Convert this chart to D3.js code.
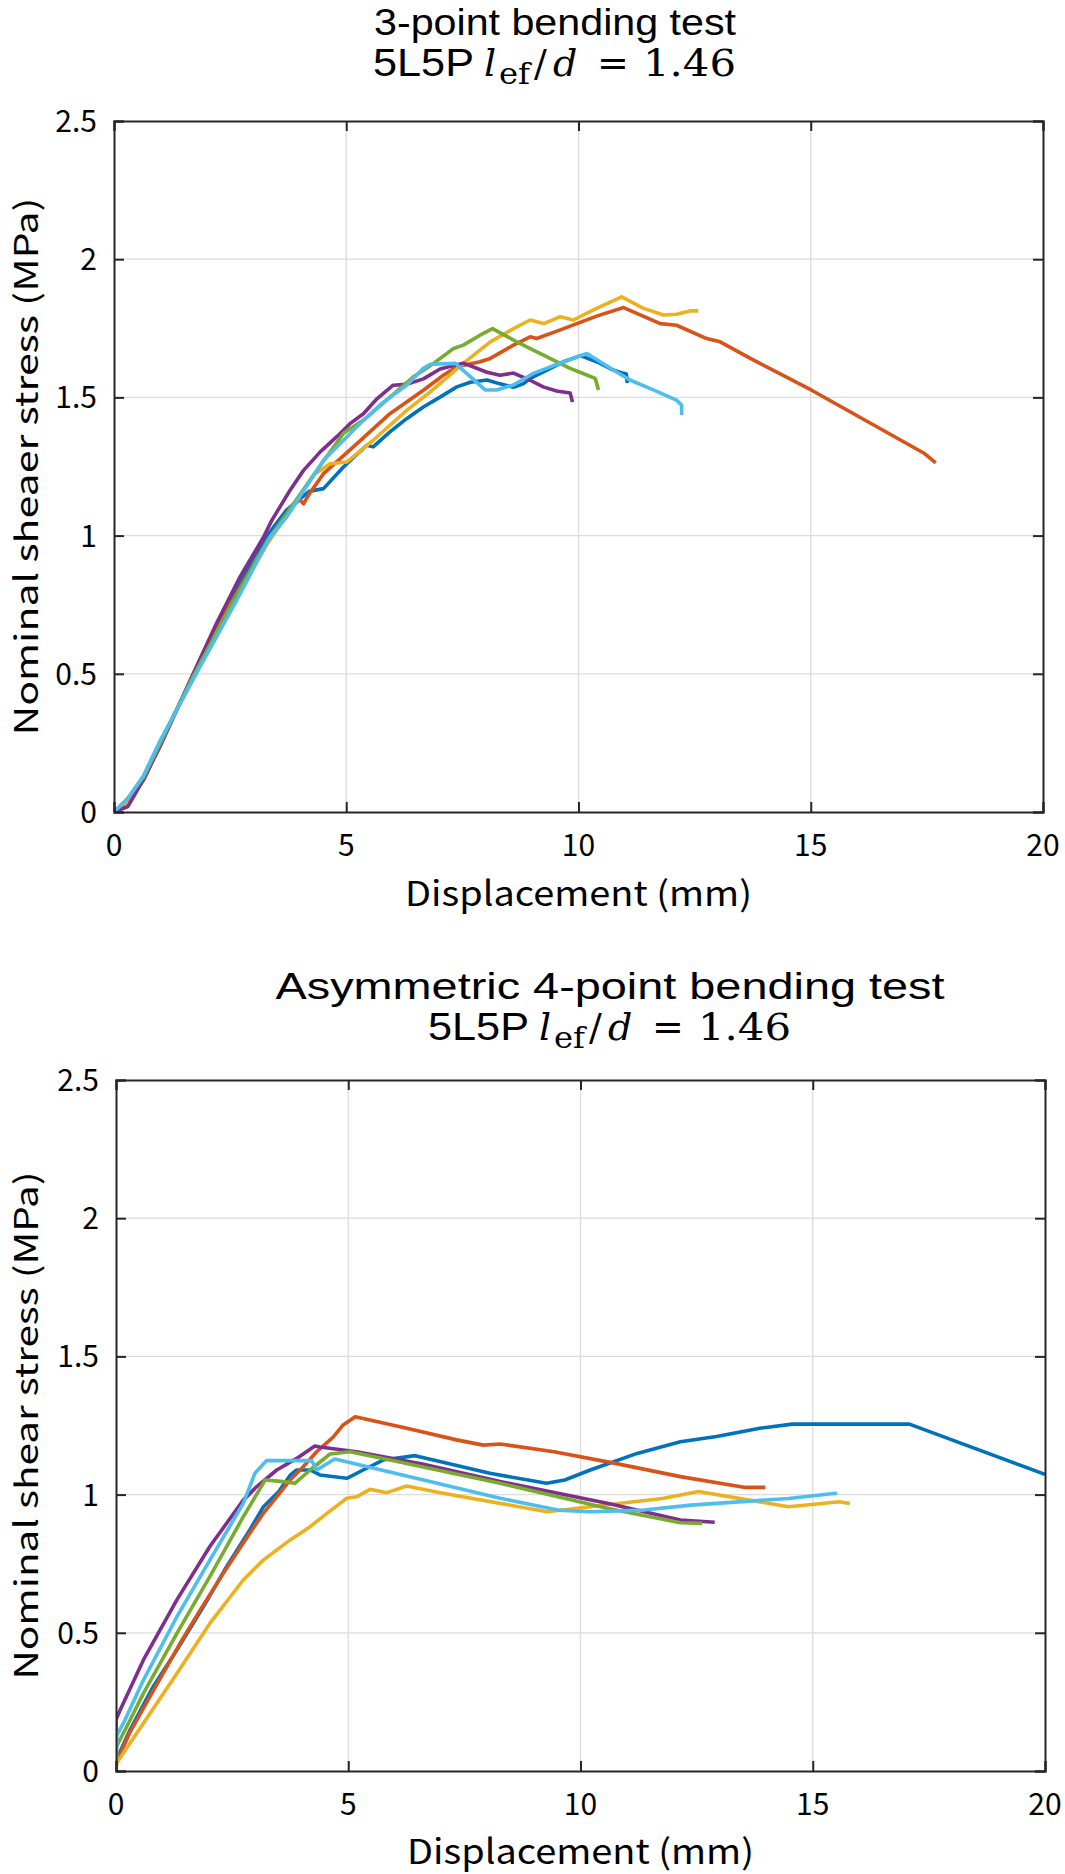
<!DOCTYPE html>
<html>
<head>
<meta charset="utf-8">
<script src="https://cdn.jsdelivr.net/npm/d3@7"></script>
<style>
  html, body { margin: 0; padding: 0; background: #fff; }
  svg { display: block; }
</style>
</head>
<body>
<svg id="chart" width="1065" height="1874"></svg>
<script>
// ---------------- DATA ----------------
const xTicks = [0, 5, 10, 15, 20];
const xTickLabels = ["0", "5", "10", "15", "20"];
const yTicks = [0, 0.5, 1, 1.5, 2, 2.5];
const yTickLabels = ["0", "0.5", "1", "1.5", "2", "2.5"];
const seriesColors = ["#0072BD", "#D95319", "#EDB120", "#7E2F8E", "#77AC30", "#4DBEEE"];

const titleTop1 = "3-point bending test";
const titleBot1 = "Asymmetric 4-point bending test";
const titleLine2 = { prefix: "5L5P", sym: "l", sub: "ef", slash: "/", d: "d", eq: "=", val: "1.46" };
const xLabel = "Displacement (mm)";
const yLabelTop = "Nominal sheaer stress (MPa)";
const yLabelBot = "Nominal shear stress (MPa)";

// 3-point bending test
const top_s1 = [[0,0],[0.3,0.04],[0.65,0.12],[1.0,0.25],[1.7,0.49],[2.5,0.76],[3.0,0.92],[3.3,1.0],[3.7,1.09],[4.2,1.16],[4.51,1.17],[4.94,1.248],[5.44,1.327],[5.58,1.321],[5.94,1.375],[6.30,1.423],[6.66,1.465],[7.02,1.501],[7.38,1.538],[7.67,1.555],[8.03,1.563],[8.31,1.549],[8.60,1.537],[8.81,1.549],[8.96,1.569],[9.32,1.599],[9.68,1.629],[10.04,1.651],[10.39,1.629],[10.75,1.599],[10.97,1.587],[11.03,1.585],[11.05,1.552]];
const top_s2 = [[0,0],[0.3,0.04],[0.65,0.12],[1.0,0.25],[1.7,0.49],[2.5,0.75],[3.3,0.98],[3.8,1.10],[4.0,1.13],[4.08,1.115],[4.2,1.15],[4.51,1.224],[5.23,1.333],[5.94,1.441],[6.66,1.526],[7.09,1.580],[7.38,1.611],[7.88,1.629],[8.10,1.641],[8.60,1.689],[8.96,1.719],[9.10,1.713],[9.68,1.749],[10.39,1.794],[10.97,1.825],[11.76,1.767],[12.11,1.761],[12.76,1.713],[13.05,1.701],[13.70,1.641],[15.02,1.526],[17.45,1.297],[17.69,1.263]];
const top_s3 = [[0,0],[0.3,0.04],[0.65,0.12],[1.0,0.25],[1.7,0.49],[2.5,0.74],[3.3,0.97],[3.9,1.12],[4.3,1.22],[4.65,1.26],[5.01,1.266],[5.58,1.345],[6.30,1.453],[6.81,1.520],[7.52,1.623],[8.10,1.701],[8.60,1.749],[8.96,1.780],[9.25,1.767],[9.61,1.792],[9.89,1.780],[10.39,1.822],[10.93,1.864],[11.40,1.822],[11.83,1.798],[12.11,1.801],[12.40,1.813],[12.58,1.813]];
const top_s4 = [[0,0],[0.3,0.02],[0.63,0.116],[1.0,0.24],[1.64,0.477],[2.2,0.68],[2.71,0.85],[3.22,0.995],[3.40,1.056],[3.79,1.164],[4.08,1.236],[4.44,1.303],[4.79,1.357],[5.08,1.405],[5.37,1.441],[5.66,1.495],[6.01,1.544],[6.30,1.547],[6.66,1.567],[7.02,1.603],[7.52,1.624],[8.03,1.591],[8.31,1.580],[8.60,1.588],[8.96,1.562],[9.24,1.538],[9.53,1.523],[9.82,1.516],[9.87,1.483]];
const top_s5 = [[0,0],[0.3,0.05],[0.65,0.13],[1.0,0.25],[1.7,0.49],[2.5,0.74],[3.3,0.98],[3.72,1.08],[4.51,1.27],[4.94,1.370],[5.37,1.418],[5.95,1.502],[6.45,1.575],[6.88,1.623],[7.31,1.677],[7.52,1.689],[7.88,1.725],[8.15,1.749],[8.67,1.701],[9.32,1.647],[9.82,1.605],[10.18,1.581],[10.36,1.569],[10.43,1.527]];
const top_s6 = [[0,0],[0.3,0.05],[0.63,0.13],[1.0,0.26],[1.85,0.525],[2.64,0.766],[3.36,0.995],[3.72,1.068],[4.51,1.273],[4.94,1.345],[5.37,1.417],[5.80,1.483],[6.30,1.544],[6.66,1.605],[6.81,1.620],[7.35,1.623],[7.99,1.527],[8.24,1.527],[8.60,1.545],[9.03,1.587],[9.68,1.629],[10.18,1.659],[10.75,1.599],[11.11,1.563],[11.61,1.527],[12.11,1.490],[12.22,1.472],[12.22,1.436]];

// Asymmetric 4-point bending test
const bot_s1 = [[0,0],[0.01,0.04],[0.30,0.148],[0.80,0.305],[1.31,0.438],[1.88,0.594],[2.38,0.739],[2.88,0.872],[3.17,0.955],[3.50,1.01],[3.75,1.07],[3.89,1.089],[4.18,1.089],[4.39,1.071],[4.97,1.059],[5.32,1.089],[5.75,1.125],[6.44,1.141],[8.05,1.077],[9.27,1.041],[9.66,1.053],[10.21,1.089],[11.22,1.149],[12.15,1.191],[12.93,1.210],[13.86,1.240],[14.56,1.255],[17.08,1.255],[20,1.073]];
const bot_s2 = [[0,0],[0.01,0.03],[0.30,0.14],[0.73,0.269],[1.38,0.462],[1.81,0.582],[2.31,0.715],[2.88,0.860],[3.17,0.932],[3.46,0.992],[3.75,1.053],[4.03,1.101],[4.32,1.155],[4.68,1.209],[4.89,1.252],[5.15,1.282],[6.26,1.240],[7.33,1.198],[7.91,1.179],[8.27,1.183],[9.43,1.155],[10.75,1.113],[12.15,1.065],[13.55,1.026],[13.98,1.026]];
const bot_s3 = [[0,0],[0.01,0.028],[0.59,0.173],[1.31,0.353],[2.02,0.534],[2.74,0.691],[3.17,0.763],[3.75,0.836],[4.18,0.884],[4.54,0.932],[4.97,0.987],[5.18,0.992],[5.47,1.019],[5.83,1.007],[6.26,1.031],[6.98,1.007],[9.28,0.938],[10.21,0.956],[11.76,0.986],[12.54,1.011],[14.48,0.956],[15.57,0.974],[15.80,0.968]];
const bot_s4 = [[0,0],[0,0.185],[0.09,0.221],[0.59,0.402],[1.31,0.619],[2.02,0.812],[2.74,0.980],[3.03,1.029],[3.46,1.089],[3.89,1.131],[4.28,1.176],[4.39,1.172],[5.18,1.155],[6.62,1.110],[8.27,1.047],[10.60,0.968],[12.15,0.908],[12.89,0.900]];
const bot_s5 = [[0,0],[0.01,0.088],[0.23,0.160],[0.59,0.281],[1.31,0.498],[2.02,0.703],[2.74,0.920],[3.17,1.041],[3.21,1.053],[3.60,1.047],[3.85,1.041],[4.18,1.089],[4.61,1.147],[5.04,1.155],[5.90,1.125],[8.27,1.041],[10.60,0.950],[12.15,0.898],[12.62,0.896]];
const bot_s6 = [[0,0],[0.02,0.13],[0.16,0.173],[0.59,0.329],[1.31,0.558],[2.02,0.763],[2.74,0.968],[2.99,1.077],[3.24,1.123],[4.21,1.123],[4.32,1.089],[4.71,1.129],[6.62,1.053],[8.27,0.987],[9.51,0.944],[10.21,0.938],[11.37,0.944],[12.38,0.962],[14.48,0.986],[15.49,1.005],[15.50,0.998]];

// ---------------- DRAWING ----------------
const svg = d3.select("#chart");
const SANS = "'Liberation Sans', Arial, sans-serif";
const GOTH = "'Noto Sans CJK JP', 'Noto Sans', sans-serif";
const MATH = "'DejaVu Serif', 'Liberation Serif', serif";
const AX = "#262626";

const panels = [
  { id: "p1", left: 114, right: 1043, top: 121, bottom: 812,
    series: [top_s1, top_s2, top_s3, top_s4, top_s5, top_s6],
    title1: titleTop1, t1w: 362, t1y: 35, tcx: 555, t2y: 76, ylabel: yLabelTop, ylw: 538, xly: 906 },
  { id: "p2", left: 116, right: 1045, top: 1080, bottom: 1771,
    series: [bot_s1, bot_s2, bot_s3, bot_s4, bot_s5, bot_s6],
    title1: titleBot1, t1w: 669, t1y: 999, tcx: 610, t2y: 1040, ylabel: yLabelBot, ylw: 508, xly: 1864 }
];

panels.forEach(p => {
  const x = d3.scaleLinear().domain([0, 20]).range([p.left, p.right]);
  const y = d3.scaleLinear().domain([0, 2.5]).range([p.bottom, p.top]);
  const g = svg.append("g");

  g.append("clipPath").attr("id", "clip-" + p.id)
    .append("rect").attr("x", p.left).attr("y", p.top)
    .attr("width", p.right - p.left).attr("height", p.bottom - p.top);

  // grid
  const grid = g.append("g").attr("stroke", "#dcdcdc").attr("stroke-width", 1.3);
  grid.selectAll("line.vx").data(xTicks.slice(1, -1)).join("line")
    .attr("x1", d => x(d)).attr("x2", d => x(d)).attr("y1", p.top).attr("y2", p.bottom);
  grid.selectAll("line.hy").data(yTicks.slice(1, -1)).join("line")
    .attr("y1", d => y(d)).attr("y2", d => y(d)).attr("x1", p.left).attr("x2", p.right);

  // series
  const line = d3.line().x(d => x(d[0])).y(d => y(d[1]));
  const sg = g.append("g").attr("clip-path", `url(#clip-${p.id})`);
  p.series.forEach((s, i) => {
    sg.append("path").datum(s).attr("d", line)
      .attr("fill", "none").attr("stroke", seriesColors[i])
      .attr("stroke-width", 3.6).attr("stroke-linejoin", "round").attr("stroke-linecap", "butt");
  });

  // axes (box with inward ticks)
  const tickLen = 10;
  const axB = g.append("g").attr("transform", `translate(0,${p.bottom})`)
    .call(d3.axisBottom(x).tickValues(xTicks).tickSize(-tickLen).tickFormat(""));
  const axT = g.append("g").attr("transform", `translate(0,${p.top})`)
    .call(d3.axisTop(x).tickValues(xTicks).tickSize(-tickLen).tickFormat(""));
  const axL = g.append("g").attr("transform", `translate(${p.left},0)`)
    .call(d3.axisLeft(y).tickValues(yTicks).tickSize(-tickLen).tickFormat(""));
  const axR = g.append("g").attr("transform", `translate(${p.right},0)`)
    .call(d3.axisRight(y).tickValues(yTicks).tickSize(-tickLen).tickFormat(""));
  [axB, axT, axL, axR].forEach(a => {
    a.select(".domain").attr("stroke", AX).attr("stroke-width", 2);
    a.selectAll(".tick line").attr("stroke", AX).attr("stroke-width", 2);
  });

  // tick labels
  g.selectAll("text.xt").data(xTicks).join("text")
    .attr("x", d => x(d)).attr("y", p.bottom + 44)
    .attr("text-anchor", "middle").attr("font-family", GOTH).attr("font-size", 30)
    .attr("fill", "#000").text((d, i) => xTickLabels[i]);
  g.selectAll("text.yt").data(yTicks).join("text")
    .attr("x", p.left - 17).attr("y", d => y(d) + 11)
    .attr("text-anchor", "end").attr("font-family", GOTH).attr("font-size", 30)
    .attr("fill", "#000").text((d, i) => yTickLabels[i]);

  // axis labels
  g.append("text").attr("x", (p.left + p.right) / 2).attr("y", p.xly)
    .attr("text-anchor", "middle").attr("font-family", GOTH).attr("font-size", 34)
    .attr("textLength", 347).attr("lengthAdjust", "spacingAndGlyphs")
    .attr("fill", "#000").text(xLabel);
  const cy = (p.top + p.bottom) / 2;
  g.append("text").attr("transform", `translate(38,${cy}) rotate(-90)`)
    .attr("text-anchor", "middle").attr("font-family", GOTH).attr("font-size", 32)
    .attr("textLength", p.ylw).attr("lengthAdjust", "spacingAndGlyphs")
    .attr("fill", "#000").text(p.ylabel);

  // title line 1
  g.append("text").attr("x", p.tcx).attr("y", p.t1y).attr("text-anchor", "middle")
    .attr("font-family", SANS).attr("font-size", 37)
    .attr("textLength", p.t1w).attr("lengthAdjust", "spacingAndGlyphs")
    .attr("fill", "#000").text(p.title1);

  // title line 2 (text + math), pieces placed from the line start
  const x0 = p.tcx - 182, b = p.t2y;
  const t2 = g.append("g").attr("fill", "#000");
  t2.append("text").attr("x", x0).attr("y", b).attr("font-family", SANS).attr("font-size", 39)
    .attr("textLength", 101).attr("lengthAdjust", "spacingAndGlyphs").text(titleLine2.prefix);
  t2.append("text").attr("x", x0 + 111).attr("y", b).attr("font-family", MATH).attr("font-style", "italic")
    .attr("font-size", 38).text(titleLine2.sym);
  t2.append("text").attr("x", x0 + 126).attr("y", b + 8).attr("font-family", MATH).attr("font-size", 29)
    .attr("textLength", 31).attr("lengthAdjust", "spacingAndGlyphs").text(titleLine2.sub);
  t2.append("text").attr("x", x0 + 161).attr("y", b).attr("font-family", MATH)
    .attr("font-size", 38).text(titleLine2.slash);
  t2.append("text").attr("x", x0 + 180).attr("y", b).attr("font-family", MATH).attr("font-style", "italic")
    .attr("font-size", 38).text(titleLine2.d);
  t2.append("text").attr("x", x0 + 224).attr("y", b).attr("font-family", MATH)
    .attr("font-size", 38).text(titleLine2.eq);
  t2.append("text").attr("x", x0 + 270).attr("y", b).attr("font-family", MATH)
    .attr("font-size", 38).attr("textLength", 93).attr("lengthAdjust", "spacingAndGlyphs").text(titleLine2.val);
});
</script>
</body>
</html>
